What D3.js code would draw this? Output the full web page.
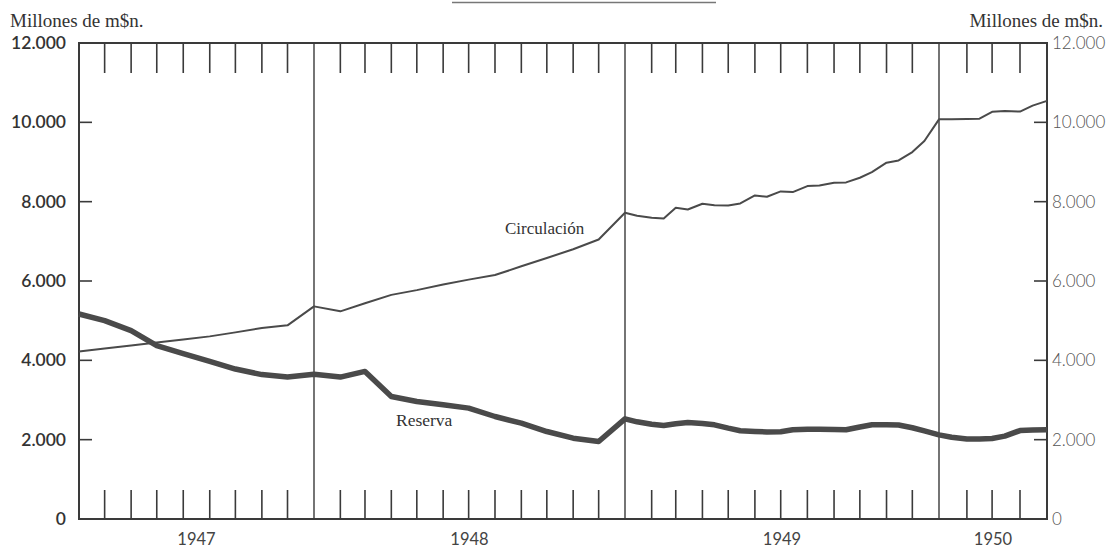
<!DOCTYPE html>
<html><head><meta charset="utf-8">
<script src="https://cdn.jsdelivr.net/npm/d3@7"></script>
<style>
html,body{margin:0;padding:0;background:#fff;}
svg{display:block;}
</style></head>
<body>
<svg id="chart" width="1113" height="550"></svg>
<script>
// ---- data ----
const dates = [
 "1947-04-01","1947-05-01","1947-06-01","1947-07-01","1947-08-01","1947-09-01","1947-10-01","1947-11-01","1947-12-01",
 "1948-01-01","1948-02-01","1948-03-01","1948-04-01","1948-05-01","1948-06-01","1948-07-01","1948-08-01","1948-09-01","1948-10-01","1948-11-01","1948-12-01",
 "1949-01-01","1949-01-15","1949-02-01","1949-02-15","1949-03-01","1949-03-15","1949-04-01","1949-04-15","1949-05-01","1949-05-15","1949-06-01","1949-06-15",
 "1949-07-01","1949-07-15","1949-08-01","1949-08-15","1949-09-01","1949-09-15","1949-10-01","1949-10-15","1949-11-01","1949-11-15","1949-12-01","1949-12-15",
 "1950-01-01","1950-01-15","1950-02-01","1950-02-15","1950-03-01","1950-03-15","1950-04-01","1950-04-15","1950-05-01"
];
const circulacion = [
 4225,4300,4376,4452,4528,4604,4705,4815,4882,
 5360,5235,5440,5650,5770,5910,6035,6150,6370,6580,6800,7045,
 7720,7644,7593,7576,7846,7803,7947,7912,7904,7955,8157,8123,
 8258,8241,8392,8409,8477,8485,8603,8746,8982,9040,9250,9528,
 10076,10080,10085,10093,10265,10285,10270,10420,10540
];
const reserva = [
 5168,5000,4750,4370,4170,3973,3780,3640,3580,
 3650,3578,3720,3089,2962,2879,2795,2584,2416,2205,2037,1953,
 2525,2450,2390,2356,2400,2432,2410,2374,2290,2225,2205,2195,
 2200,2250,2265,2260,2255,2250,2320,2374,2378,2370,2300,2220,
 2121,2060,2015,2015,2030,2090,2230,2245,2247
];
const yTickValues = [0,2000,4000,6000,8000,10000,12000];
const years = ["1947","1948","1949","1950"];
const xBreaks = ["1947-04-01","1948-01-01","1949-01-01","1950-01-01","1950-05-01"];
const unitLabel = "Millones de m$n.";
const seriesLabels = ["Circulación","Reserva"];

// ---- layout ----
const svg = d3.select("#chart");
const T = 43, B = 519;
const parse = d3.timeParse("%Y-%m-%d");
const breaks = xBreaks.map(parse);
const start = breaks[0], end = breaks[breaks.length-1];
// piecewise time scale (drawn paper is slightly uneven between years)
const x = d3.scaleTime().domain(breaks).range([79,314,625,939,1047]);
const L = x(start), R = x(end);
const y = d3.scaleLinear().domain([0,12000]).range([B,T]);
const loc = d3.formatLocale({decimal:",",thousands:".",grouping:[3],currency:["",""]});
const fmt = loc.format(",d");

const ink = "#3a3a3a";

// title underline fragment at top
svg.append("line").attr("x1",452).attr("x2",716).attr("y1",2.5).attr("y2",2.5)
  .attr("stroke","#777").attr("stroke-width",1.5);

// frame
svg.append("rect").attr("x",L).attr("y",T).attr("width",R-L).attr("height",B-T)
  .attr("fill","none").attr("stroke",ink).attr("stroke-width",2);

// month ticks
const months = d3.timeMonth.range(d3.timeMonth.offset(start,1), end);
const yearStarts = months.filter(d => d.getMonth()===0);
const monthTicks = months.filter(d => d.getMonth()!==0);
svg.append("g").selectAll("line").data(monthTicks).join("line")
  .attr("x1",d=>x(d)).attr("x2",d=>x(d)).attr("y1",T).attr("y2",T+30)
  .attr("stroke",ink).attr("stroke-width",1.6);
svg.append("g").selectAll("line").data(monthTicks).join("line")
  .attr("x1",d=>x(d)).attr("x2",d=>x(d)).attr("y1",B).attr("y2",B-29)
  .attr("stroke",ink).attr("stroke-width",1.6);
// year separators
svg.append("g").selectAll("line").data(yearStarts).join("line")
  .attr("x1",d=>x(d)).attr("x2",d=>x(d)).attr("y1",T).attr("y2",B)
  .attr("stroke",ink).attr("stroke-width",1.4);

// year labels centred in each year span
svg.append("g").selectAll("text").data(years).join("text")
  .attr("x",(d,i)=> (x(breaks[i])+x(breaks[i+1]))/2)
  .attr("y",545).attr("text-anchor","middle")
  .attr("font-family","Lato, 'Open Sans', sans-serif").attr("font-size",16.5)
  .attr("fill","#444").text(d=>d);

// y axes
const inner = yTickValues.filter(v=>v>0 && v<12000);
const leftAxis = d3.axisLeft(y).tickValues(yTickValues).tickFormat(fmt).tickSize(0).tickPadding(13);
const gL = svg.append("g").attr("transform",`translate(${L},0)`).call(leftAxis);
gL.select(".domain").remove();
gL.selectAll("text").attr("font-family","Lato, sans-serif").attr("font-size",17.5)
  .attr("font-weight",600).attr("fill","#333");
const rightAxis = d3.axisRight(y).tickValues(yTickValues).tickFormat(fmt).tickSize(0).tickPadding(5);
const gR = svg.append("g").attr("transform",`translate(${R},0)`).call(rightAxis);
gR.select(".domain").remove();
gR.selectAll("text").attr("font-family","Lato, sans-serif").attr("font-size",17)
  .attr("font-weight",300).attr("fill","#555");
svg.append("g").selectAll("line").data(inner).join("line")
  .attr("x1",L).attr("x2",L+13).attr("y1",d=>y(d)).attr("y2",d=>y(d))
  .attr("stroke",ink).attr("stroke-width",1.6);
svg.append("g").selectAll("line").data(inner).join("line")
  .attr("x1",R).attr("x2",R-13).attr("y1",d=>y(d)).attr("y2",d=>y(d))
  .attr("stroke",ink).attr("stroke-width",1.6);

// unit labels
svg.append("text").attr("x",10).attr("y",27).attr("font-family","'Liberation Serif', serif")
  .attr("font-size",19).attr("fill","#333").text(unitLabel);
svg.append("text").attr("x",1103).attr("y",27).attr("text-anchor","end").attr("font-family","'Liberation Serif', serif")
  .attr("font-size",19).attr("fill","#333").text(unitLabel);

// series
const pts = dates.map(parse);
const line = vals => d3.line().x((d,i)=>x(pts[i])).y(d=>y(d))(vals);
svg.append("path").attr("d",line(reserva)).attr("fill","none")
  .attr("stroke","#4a4a4a").attr("stroke-width",5.5).attr("stroke-linejoin","round");
svg.append("path").attr("d",line(circulacion)).attr("fill","none")
  .attr("stroke","#4a4a4a").attr("stroke-width",2).attr("stroke-linejoin","round");

// series labels
svg.append("text").attr("x",505).attr("y",234).attr("font-family","'Liberation Serif', serif")
  .attr("font-size",17).attr("fill","#333").text(seriesLabels[0]);
svg.append("text").attr("x",396).attr("y",426).attr("font-family","'Liberation Serif', serif")
  .attr("font-size",17.5).attr("fill","#333").text(seriesLabels[1]);
</script>
</body></html>
